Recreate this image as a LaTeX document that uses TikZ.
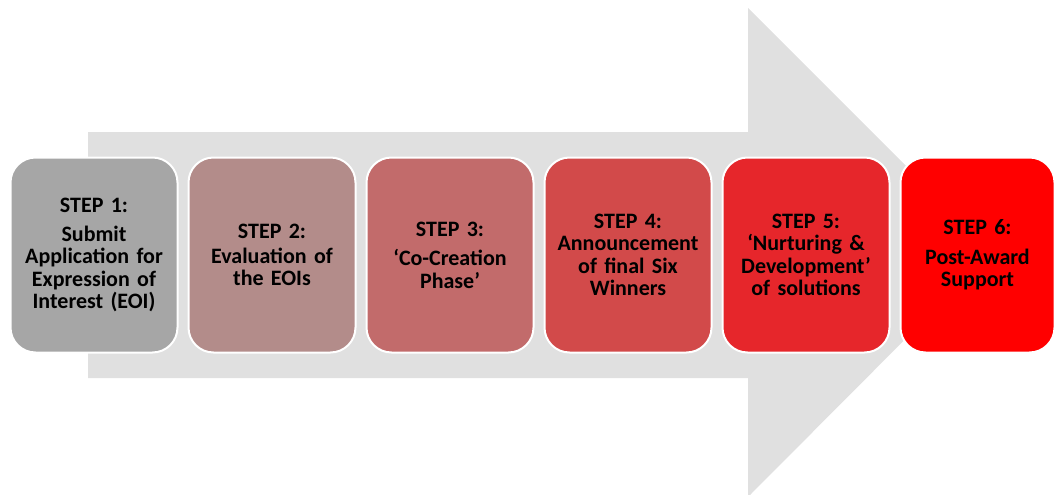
\documentclass[tikz,border=0pt]{standalone}
\usepackage{fontspec}
\setmainfont{Carlito}
\usetikzlibrary{positioning}

\definecolor{arrowgray}{HTML}{E0E0E0}
\definecolor{stepA}{HTML}{A6A6A6}
\definecolor{stepB}{HTML}{B38C8A}
\definecolor{stepC}{HTML}{C26B6B}
\definecolor{stepD}{HTML}{D24A4A}
\definecolor{stepE}{HTML}{E6262B}
\definecolor{stepF}{HTML}{FF0000}

\tikzset{
    stepbox/.style={draw=white, line width=2pt, rounded corners=25pt,
        minimum width=167pt, minimum height=195pt, text width=150pt,
        inner sep=2pt, align=center,
        font=\bfseries\fontsize{22}{22.5}\selectfont}
}

\begin{document}
\begin{tikzpicture}[x=1pt,y=-1pt]
    \useasboundingbox (0,0) rectangle (1060,495);
    % big arrow behind the steps
    \fill[arrowgray] (88,132) --++ (660,0) --++ (0,-124) --++ (244,244)
        --++ (-244,245) --++ (0,-119) --++ (-660,0) -- cycle;

    \node[stepbox, fill=stepA] (s1) at (94,255)
        {STEP 1:\\[6pt]Submit\\Application for\\Expression of\\Interest (EOI)};
    \node[stepbox, fill=stepB, right=9pt of s1] (s2)
        {STEP 2:\\[2pt]Evaluation of\\the EOIs};
    \node[stepbox, fill=stepC, right=9pt of s2] (s3)
        {STEP 3:\\[7pt]`Co-Creation\\Phase'};
    \node[stepbox, fill=stepD, right=9pt of s3] (s4)
        {STEP 4:\\Announcement\\of final Six\\Winners};
    \node[stepbox, fill=stepE, right=9pt of s4] (s5)
        {STEP 5:\\`Nurturing \&\\Development'\\of solutions};
    \node[stepbox, fill=stepF, minimum width=154pt, text width=146pt,
        right=9pt of s5] (s6)
        {STEP 6:\\[7pt]Post-Award\\Support};
\end{tikzpicture}
\end{document}
